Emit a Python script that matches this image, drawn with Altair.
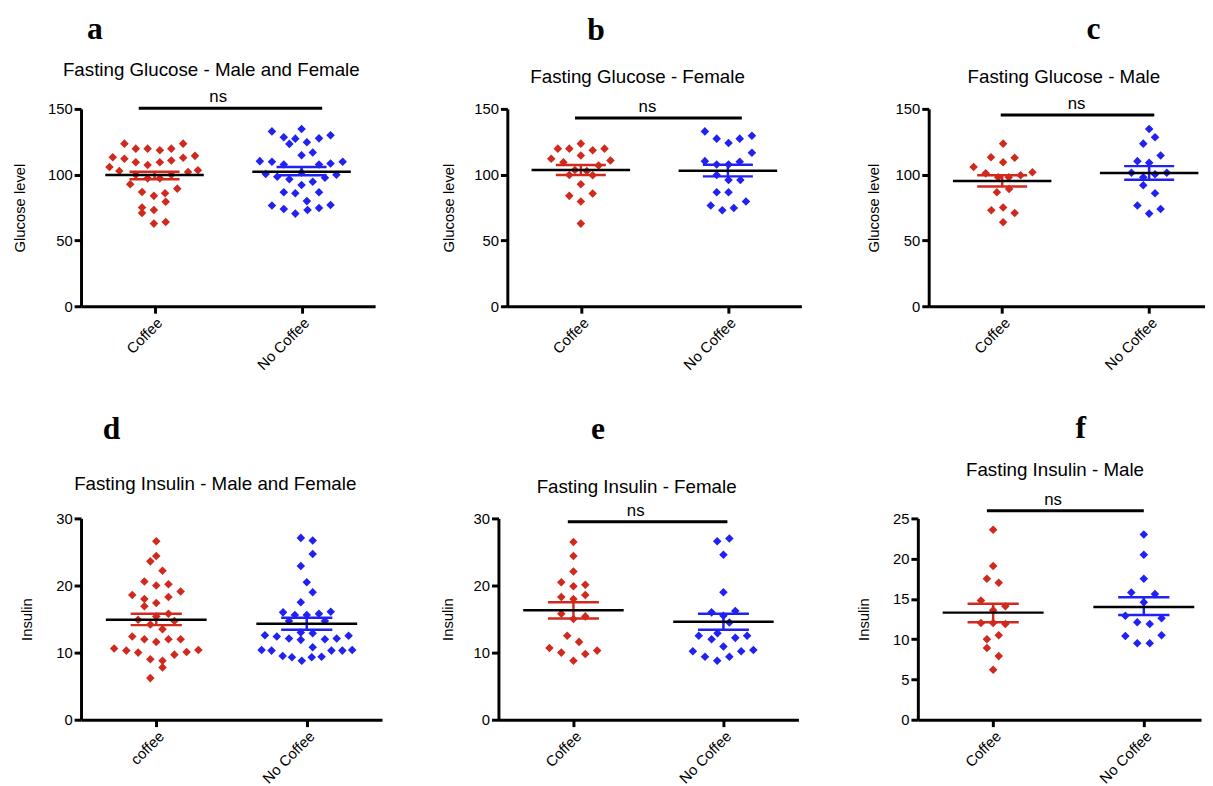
import altair as alt
import pandas as pd

RED = "#d02a1f"
BLUE = "#2121f2"
GROUPS = ["Coffee", "No Coffee"]
GROUP_POS = [1, 3]

# ---------------- panel a : Fasting Glucose - Male and Female
A_LABELS = ["Coffee", "No Coffee"]
A_COF_Y = [123.6, 119.8, 119.8, 118.6, 119.8, 123.6,
           113.3, 112.1, 109.5, 109.5, 110.8, 112.8, 114.3,
           105.8, 102.8, 107.3, 102.0, 103.3,
           100.0, 97.2, 97.2, 100.0,
           92.7, 89.4, 86.9, 85.9, 83.9, 79.4, 75.1, 73.1, 70.9, 62.8, 64.1]
A_COF_DX = [-0.41, -0.255, -0.094, 0.072, 0.228, 0.389,
            -0.568, -0.41, -0.255, 0.072, 0.228, 0.389, 0.55,
            -0.613, -0.479, -0.094, 0.456, 0.59,
            -0.255, -0.094, 0.072, 0.228,
            -0.331, 0.309, -0.17, 0.143, -0.009, 0.152, -0.17, -0.009, -0.17, -0.009, 0.152]
A_NO_Y = [132.9, 128.4, 127.4, 134.7, 123.4, 124.6, 127.6, 129.9,
          114.8, 116.8,
          110.3, 109.8, 107.8, 107.8, 108.5, 109.8,
          100.5, 98.5, 96.5, 101.6, 97.7, 100.0,
          92.2, 94.7,
          86.7, 85.9, 86.7,
          76.6, 73.9, 70.4, 73.1, 79.9, 74.6, 76.9]
A_NO_DX = [-0.403, -0.242, -0.085, 0.0, -0.166, 0.072, 0.237, 0.394,
           0.0, 0.152,
           -0.568, -0.403, -0.242, 0.237, 0.394, 0.559,
           -0.488, -0.331, -0.166, 0.0, 0.318, 0.474,
           0.0, 0.152,
           -0.242, -0.085, 0.237,
           -0.403, -0.242, -0.085, 0.081, 0.072, 0.237, 0.394]
A_MEAN = [99.7, 102.3]
A_LO = [96.5, 99.5]
A_HI = [102.3, 105.8]

# ---------------- panel b : Fasting Glucose - Female
B_LABELS = ["Coffee", "No Coffee"]
B_COF_Y = [119.8, 119.8, 123.6, 118.6, 119.8,
           112.1, 109.5, 114.6, 110.8, 107.0,
           103.5, 102.8, 99.7, 99.5, 92.7, 83.9, 85.7, 79.6, 62.8]
B_COF_DX = [-0.313, -0.157, 0.0, 0.161, 0.322,
            -0.403, -0.237, 0.0, 0.403, 0.242,
            -0.081, 0.081, -0.157, 0.161, 0.0, -0.157, 0.161, 0.0, 0.0]
B_NO_Y = [132.9, 127.4, 124.1, 127.4, 129.6, 116.6,
          110.3, 107.8, 107.8, 109.8,
          99.7, 96.0, 96.0,
          86.7, 86.7, 76.6, 72.9, 74.6, 79.6]
B_NO_DX = [-0.313, -0.152, 0.009, 0.161, 0.327, 0.327,
           -0.313, -0.152, 0.009, 0.161,
           -0.152, 0.17, 0.009,
           -0.152, 0.009, -0.233, -0.076, 0.081, 0.246]
B_MEAN = [103.5, 103.0]
B_LO = [99.7, 98.7]
B_HI = [107.3, 107.5]

# ---------------- panel c : Fasting Glucose - Male
C_LABELS = ["Coffee", "No Coffee"]
C_COF_Y = [123.6, 113.3, 112.8, 109.5,
           105.8, 101.0, 98.0, 98.0, 99.5, 101.8,
           89.2, 86.7, 72.9, 75.1, 70.9, 63.8]
C_COF_DX = [0.013, -0.152, 0.17, 0.013,
            -0.389, -0.224, -0.054, 0.089, 0.25, 0.412,
            0.094, -0.072, -0.148, 0.013, 0.17, 0.013]
C_NO_Y = [134.7, 128.4, 123.6, 114.6, 110.3, 109.0,
          101.5, 98.0, 100.3, 101.5, 92.0, 85.9, 76.6, 70.4, 73.9]
C_NO_DX = [0.0, 0.08, -0.08, 0.156, -0.16, 0.0,
           -0.24, -0.08, 0.08, 0.24, -0.08, 0.08, -0.16, 0.0, 0.156]
C_MEAN = [95.2, 101.3]
C_LO = [91.0, 96.2]
C_HI = [99.5, 106.5]

# ---------------- panel d : Fasting Insulin - Male and Female
D_LABELS = ["coffee", "No Coffee"]
D_COF_Y = [26.6, 24.4, 23.6, 22.2,
           20.6, 20.0, 20.2, 19.1,
           18.6, 18.0, 17.4, 18.3, 16.9,
           15.8, 15.4, 14.9, 14.2, 14.7, 13.5,
           12.4, 12.0, 11.6, 12.0, 12.0,
           10.6, 10.3, 10.0, 9.0, 8.8, 9.7, 10.1, 10.4,
           7.8, 6.2]
D_COF_DX = [0.0, 0.0, -0.079, 0.083,
            -0.158, 0.0, 0.162, 0.324,
            -0.319, -0.158, 0.0, 0.162, -0.158,
            0.162, 0.0, -0.241, -0.079, 0.241, 0.083,
            -0.319, -0.158, 0.0, 0.162, 0.324,
            -0.56, -0.398, -0.241, -0.079, 0.083, 0.241, 0.403, 0.56,
            0.083, -0.079]
D_NO_Y = [27.1, 26.7, 24.7, 22.9, 20.5, 19.0,
          17.5, 16.0, 15.6, 15.6, 15.8, 16.1,
          14.7, 14.7,
          13.0, 12.9, 12.6, 12.4, 12.1, 11.9, 12.0, 12.1, 12.5,
          10.4, 10.3, 9.5, 9.3, 8.8, 9.3, 9.4, 10.8, 10.3, 10.3, 10.4]
D_NO_DX = [-0.079, 0.079, 0.079, -0.079, 0.0, 0.079,
           -0.079, -0.315, -0.158, 0.0, 0.162, 0.319,
           -0.236, 0.241,
           -0.079, 0.079, -0.556, -0.398, -0.236, -0.079, 0.241, 0.398, 0.556,
           -0.6, -0.468, -0.32, -0.197, -0.066, 0.066, 0.197, 0.079, 0.328, 0.473, 0.604]
D_MEAN = [14.9, 14.3]
D_LO = [14.1, 13.4]
D_HI = [15.8, 15.2]

# ---------------- panel e : Fasting Insulin - Female
E_LABELS = ["Coffee", "No Coffee"]
E_COF_Y = [26.5, 24.4, 22.1, 20.5, 19.9, 20.1,
           18.3, 18.0, 18.6, 15.8, 15.0, 15.4,
           12.5, 11.6, 10.7, 10.0, 8.8, 9.8, 10.3]
E_COF_DX = [0.0, 0.0, 0.0, -0.162, 0.0, 0.158,
            -0.162, 0.0, 0.158, -0.162, 0.0, 0.158,
            -0.083, 0.075, -0.32, -0.162, 0.0, 0.158, 0.316]
E_NO_Y = [26.6, 27.0, 24.6, 19.0,
          16.0, 16.2, 15.5, 14.5,
          12.5, 12.0, 12.2, 12.5, 12.9,
          10.2, 9.4, 8.8, 9.4, 10.2, 10.4, 10.9]
E_NO_DX = [-0.083, 0.079, 0.0, 0.0,
           -0.158, 0.158, 0.0, 0.079,
           -0.329, -0.158, 0.158, 0.316, -0.079,
           -0.408, -0.246, -0.083, 0.079, 0.237, 0.399, 0.0]
E_MEAN = [16.3, 14.6]
E_LO = [15.1, 13.4]
E_HI = [17.5, 15.8]

# ---------------- panel f : Fasting Insulin - Male
F_LABELS = ["Coffee", "No Coffee"]
F_COF_Y = [23.6, 19.1, 17.5, 17.0, 14.8, 14.1, 13.6,
           12.0, 12.0, 11.9, 10.0, 10.5, 8.9, 7.9, 6.2]
F_COF_DX = [0.0, 0.0, -0.083, 0.074, -0.162, 0.162, 0.0,
            -0.162, 0.0, 0.162, -0.083, 0.074, -0.083, 0.074, 0.0]
F_NO_Y = [23.0, 20.5, 17.5, 15.8, 15.6, 14.6,
          12.9, 12.1, 11.9, 12.6, 10.4, 10.5, 9.5, 9.5]
F_NO_DX = [0.0, 0.0, 0.0, -0.166, 0.148, 0.0,
           -0.245, -0.087, 0.079, 0.236, -0.245, 0.236, -0.087, 0.079]
F_MEAN = [13.3, 14.0]
F_LO = [12.1, 13.0]
F_HI = [14.4, 15.2]

# "ns" brackets: x1, x2, y (data units), text x
NS_A = [0.785, 3.28, 150.5, 1.866]
NS_B = [0.92, 3.19, 143.0, 1.906]
NS_C = [0.98, 3.07, 145.3, 2.013]
NS_E = [0.925, 3.053, 29.5, 1.83]
NS_F = [0.917, 3.0, 25.95, 1.796]

MEAN_HALF = 0.67
CAP_HALF = 0.34


def panel(letter, title, ytitle, labels, cy, cdx, ny, ndx, mean, lo, hi,
          yticks, ns, xmax, width, height, letter_xy, title_xy, tpad=20):
    rows = []
    for v, d in zip(cy, cdx):
        rows.append({"x": GROUP_POS[0] + d, "y": v, "g": GROUPS[0]})
    for v, d in zip(ny, ndx):
        rows.append({"x": GROUP_POS[1] + d, "y": v, "g": GROUPS[1]})
    pts = pd.DataFrame(rows)
    stats = pd.DataFrame({
        "g": GROUPS,
        "pos": GROUP_POS,
        "mean": mean,
        "lo": lo,
        "hi": hi,
    })
    stats["m1"] = stats["pos"] - MEAN_HALF
    stats["m2"] = stats["pos"] + MEAN_HALF
    stats["c1"] = stats["pos"] - CAP_HALF
    stats["c2"] = stats["pos"] + CAP_HALF

    label_expr = "datum.value == %d ? '%s' : '%s'" % (GROUP_POS[0], labels[0], labels[1])
    xscale = alt.Scale(domain=[0, xmax], nice=False, zero=False)
    yscale = alt.Scale(domain=[0, yticks[-1]], nice=False)
    xaxis = alt.Axis(values=GROUP_POS, labelExpr=label_expr, labelAngle=-45,
                     title=None, grid=False)
    yaxis = alt.Axis(values=yticks, title=ytitle, grid=False, titlePadding=tpad)

    def X(f):
        return alt.X(f, type="quantitative", scale=xscale, axis=xaxis)

    def Y(f):
        return alt.Y(f, type="quantitative", scale=yscale, axis=yaxis)

    color = alt.Color("g:N", scale=alt.Scale(domain=GROUPS, range=[RED, BLUE]), legend=None)

    points = alt.Chart(pts).mark_point(shape="diamond", filled=True, size=75, opacity=1).encode(
        x=X("x"), y=Y("y"), color=color)
    sem_v = alt.Chart(stats).mark_rule(strokeWidth=2.5).encode(
        x=X("pos"), y=Y("lo"), y2="hi", color=color)
    cap_lo = alt.Chart(stats).mark_rule(strokeWidth=2.5).encode(
        x=X("c1"), x2="c2", y=Y("lo"), color=color)
    cap_hi = alt.Chart(stats).mark_rule(strokeWidth=2.5).encode(
        x=X("c1"), x2="c2", y=Y("hi"), color=color)
    mean_l = alt.Chart(stats).mark_rule(strokeWidth=2.5, color="black").encode(
        x=X("m1"), x2="m2", y=Y("mean"))

    tdf = pd.DataFrame({"t": [title]})
    ttl = alt.Chart(tdf).mark_text(font="Liberation Sans", fontSize=19, color="black",
                                   align="center", baseline="alphabetic").encode(
        text="t:N", x=alt.value(title_xy[0]), y=alt.value(title_xy[1]))
    ldf = pd.DataFrame({"t": [letter]})
    let = alt.Chart(ldf).mark_text(font="Liberation Serif", fontSize=32, fontWeight="bold",
                                   color="black", align="center", baseline="alphabetic").encode(
        text="t:N", x=alt.value(letter_xy[0]), y=alt.value(letter_xy[1]))

    layers = [points, sem_v, cap_lo, cap_hi, mean_l, ttl, let]
    if ns is not None:
        nsdf = pd.DataFrame({"x1": [ns[0]], "x2": [ns[1]], "y": [ns[2]], "tx": [ns[3]], "t": ["ns"]})
        bar = alt.Chart(nsdf).mark_rule(strokeWidth=3, color="black").encode(
            x=X("x1"), x2="x2", y=Y("y"))
        txt = alt.Chart(nsdf).mark_text(font="Liberation Sans", fontSize=17, color="black",
                                        baseline="alphabetic", dy=-6).encode(
            x=X("tx"), y=Y("y"), text="t:N")
        layers += [bar, txt]
    return alt.layer(*layers).properties(width=width, height=height)


GLU_TICKS = [0, 50, 100, 150]
INS_TICKS = [0, 10, 20, 30]
INS_M_TICKS = [0, 5, 10, 15, 20, 25]

pa = panel("a", "Fasting Glucose - Male and Female", "Glucose level", A_LABELS,
           A_COF_Y, A_COF_DX, A_NO_Y, A_NO_DX, A_MEAN, A_LO, A_HI,
           GLU_TICKS, NS_A, 4, 298, 200, (14, -71), (132, -33), tpad=20)
pb = panel("b", "Fasting Glucose - Female", "Glucose level", B_LABELS,
           B_COF_Y, B_COF_DX, B_NO_Y, B_NO_DX, B_MEAN, B_LO, B_HI,
           GLU_TICKS, NS_B, 4, 298, 200, (90, -70), (132, -26), tpad=18)
pc = panel("c", "Fasting Glucose - Male", "Glucose level", C_LABELS,
           C_COF_Y, C_COF_DX, C_NO_Y, C_NO_DX, C_MEAN, C_LO, C_HI,
           GLU_TICKS, NS_C, 3.76, 280, 200, (167, -71), (137, -26), tpad=14)
pd_ = panel("d", "Fasting Insulin - Male and Female", "Insulin", D_LABELS,
            D_COF_Y, D_COF_DX, D_NO_Y, D_NO_DX, D_MEAN, D_LO, D_HI,
            INS_TICKS, None, 4, 305, 204, (31, -80), (136, -29), tpad=22)
pe = panel("e", "Fasting Insulin - Female", "Insulin", E_LABELS,
           E_COF_Y, E_COF_DX, E_NO_Y, E_NO_DX, E_MEAN, E_LO, E_HI,
           INS_TICKS, NS_E, 4, 304, 204, (101, -80), (140, -26), tpad=18)
pf = panel("f", "Fasting Insulin - Male", "Insulin", F_LABELS,
           F_COF_Y, F_COF_DX, F_NO_Y, F_NO_DX, F_MEAN, F_LO, F_HI,
           INS_M_TICKS, NS_F, 3.76, 287, 204, (165, -81), (139, -43), tpad=21)

chart = alt.concat(
    pa, pb, pc, pd_, pe, pf, columns=3,
    spacing={"row": 40, "column": 59},
    align={"row": "each", "column": "none"},
).properties(
    padding={"left": 4, "top": 0, "right": 0, "bottom": 0}
).configure_view(stroke=None).configure_axis(
    domainColor="black", domainWidth=3, tickColor="black", tickWidth=3, tickSize=7,
    labelFont="Liberation Sans", labelFontSize=15, labelColor="black", labelPadding=2,
    titleFont="Liberation Sans", titleFontSize=15, titleFontWeight="normal", titleColor="black",
    grid=False
)

chart.save("out.html", embed_options={"renderer": "svg", "actions": False})
